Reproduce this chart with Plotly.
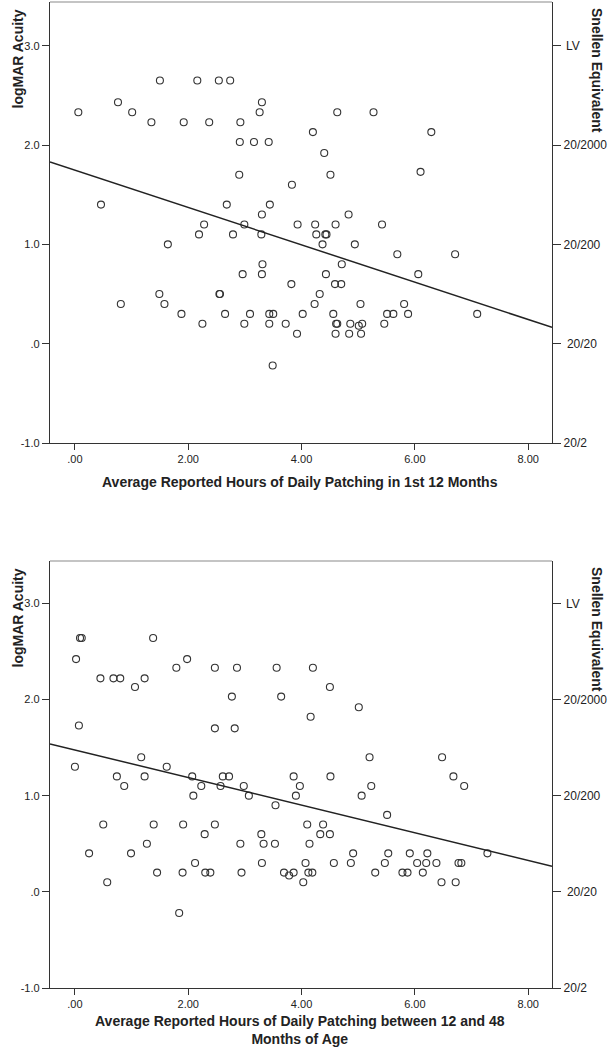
import plotly.graph_objects as go

# ---------------- data ----------------
top_x = [0.06, 0.76, 1.01, 1.35, 1.50, 1.92, 2.16, 2.37, 2.54, 2.74, 2.92, 2.91, 3.16, 3.42, 3.26, 3.30,
         2.90, 3.83, 4.20, 4.63, 5.27, 6.29, 4.40, 4.51, 6.10, 0.46, 2.68, 3.44, 3.30, 2.28, 2.99, 3.93,
         2.19, 2.79, 3.29, 1.64, 3.31, 2.96, 3.30, 3.82, 1.49, 2.55, 2.56, 0.81, 1.58, 1.88, 2.65, 3.09,
         3.43, 3.50, 4.02, 2.25, 2.99, 3.43, 3.72, 3.92, 3.49, 4.24, 4.60, 4.83, 5.42, 4.26, 4.42, 4.44,
         4.37, 4.94, 5.69, 6.71, 4.71, 4.43, 6.06, 4.59, 4.70, 4.32, 4.23, 5.04, 5.81, 4.56, 5.51, 5.62,
         5.88, 7.10, 4.61, 4.63, 4.86, 5.01, 5.07, 5.46, 4.60, 4.84, 5.05]
top_y = [2.33, 2.43, 2.33, 2.23, 2.65, 2.23, 2.65, 2.23, 2.65, 2.65, 2.23, 2.03, 2.03, 2.03, 2.33, 2.43,
         1.70, 1.60, 2.13, 2.33, 2.33, 2.13, 1.92, 1.70, 1.73, 1.40, 1.40, 1.40, 1.30, 1.20, 1.20, 1.20,
         1.10, 1.10, 1.10, 1.00, 0.80, 0.70, 0.70, 0.60, 0.50, 0.50, 0.50, 0.40, 0.40, 0.30, 0.30, 0.30,
         0.30, 0.30, 0.30, 0.20, 0.20, 0.20, 0.20, 0.10, -0.22, 1.20, 1.20, 1.30, 1.20, 1.10, 1.10, 1.10,
         1.00, 1.00, 0.90, 0.90, 0.80, 0.70, 0.70, 0.60, 0.60, 0.50, 0.40, 0.40, 0.40, 0.30, 0.30, 0.30,
         0.30, 0.30, 0.20, 0.20, 0.20, 0.18, 0.20, 0.20, 0.10, 0.10, 0.10]

bot_x = [0.02, 0.09, 0.12, 0.07, 0.45, 0.68, 0.80, 1.06, 1.23, 1.38, 1.79, 1.98, 2.47, 2.86, 3.56, 2.77,
         3.64, 2.47, 2.82, 1.17, 4.20, 4.16, 4.50, 5.01, 5.20, 6.48, 0.00, 0.74, 0.87, 1.23, 1.62, 2.07,
         2.09, 2.23, 2.57, 2.61, 2.72, 2.98, 3.07, 3.54, 3.86, 3.97, 3.90, 0.50, 1.39, 1.91, 2.47, 4.10,
         2.29, 3.29, 1.27, 2.92, 3.33, 3.53, 4.14, 0.25, 0.99, 2.12, 3.30, 4.07, 1.45, 1.90, 2.30, 2.39,
         2.94, 3.69, 3.78, 3.86, 4.12, 4.19, 0.57, 4.03, 1.84, 4.51, 6.68, 5.23, 6.87, 5.06, 5.51, 4.38,
         4.33, 4.50, 4.91, 5.53, 5.91, 6.22, 7.28, 4.57, 4.87, 5.47, 6.04, 6.20, 6.38, 6.77, 6.82, 5.30,
         5.78, 5.87, 6.14, 6.47, 6.72]
bot_y = [2.42, 2.64, 2.64, 1.73, 2.22, 2.22, 2.22, 2.13, 2.22, 2.64, 2.33, 2.42, 2.33, 2.33, 2.33, 2.03,
         2.03, 1.70, 1.70, 1.40, 2.33, 1.82, 2.13, 1.92, 1.40, 1.40, 1.30, 1.20, 1.10, 1.20, 1.30, 1.20,
         1.00, 1.10, 1.10, 1.20, 1.20, 1.10, 1.00, 0.90, 1.20, 1.10, 1.00, 0.70, 0.70, 0.70, 0.70, 0.70,
         0.60, 0.60, 0.50, 0.50, 0.50, 0.50, 0.50, 0.40, 0.40, 0.30, 0.30, 0.30, 0.20, 0.20, 0.20, 0.20,
         0.20, 0.20, 0.17, 0.20, 0.20, 0.20, 0.10, 0.10, -0.22, 1.20, 1.20, 1.10, 1.10, 1.00, 0.80, 0.70,
         0.60, 0.60, 0.40, 0.40, 0.40, 0.40, 0.40, 0.30, 0.30, 0.30, 0.30, 0.30, 0.30, 0.30, 0.30, 0.20,
         0.20, 0.20, 0.20, 0.10, 0.10]

# linear fit lines (intercept, slope)
top_fit = [1.747, -0.188]
bot_fit = [1.475, -0.1435]

x_ticks = [0, 2, 4, 6, 8]
x_tick_text = [".00", "2.00", "4.00", "6.00", "8.00"]
y_ticks = [-1, 0, 1, 2, 3]
y_tick_text = ["-1.0", ".0", "1.0", "2.0", "3.0"]
snellen_text = ["20/2", "\u00a020/20", "20/200", "20/2000", "\u2009LV"]

x_title_top = "Average Reported Hours of Daily Patching in 1st 12 Months"
x_title_bot = "Average Reported Hours of Daily Patching between 12 and 48<br>Months of Age"
y_title_left = "logMAR Acuity"
y_title_right = "Snellen Equivalent"

# ---------------- layout geometry ----------------
W, H = 610, 1050
L, R, T, B = 50, 58, 2, 62
X_RANGE = [-0.44, 8.42]
Y_RANGE = [-1.0, 3.44]
plot_h = H - T - B


def py(p):  # pixel y -> paper y
    return (H - B - p) / plot_h


def px(p):  # pixel x -> paper x
    return (p - L) / (W - L - R)


top_dom = [py(443), 1.0]
bot_dom = [0.0, py(561)]

FONT = "Liberation Sans, Arial, sans-serif"
TXT = "#222222"
LINE = "#333333"

fig = go.Figure()

marker = dict(symbol="circle-open", size=7, color="#333333", line=dict(width=1.1))

fig.add_trace(go.Scatter(x=top_x, y=top_y, mode="markers", marker=marker, xaxis="x", yaxis="y",
                         showlegend=False))
fig.add_trace(go.Scatter(x=X_RANGE, y=[top_fit[0] + top_fit[1] * v for v in X_RANGE], mode="lines",
                         line=dict(color="#222222", width=1.5), xaxis="x", yaxis="y2", showlegend=False))
fig.add_trace(go.Scatter(x=bot_x, y=bot_y, mode="markers", marker=marker, xaxis="x2", yaxis="y3",
                         showlegend=False))
fig.add_trace(go.Scatter(x=X_RANGE, y=[bot_fit[0] + bot_fit[1] * v for v in X_RANGE], mode="lines",
                         line=dict(color="#222222", width=1.5), xaxis="x2", yaxis="y4", showlegend=False))

xa = dict(range=X_RANGE, tickvals=x_ticks, ticktext=x_tick_text, ticks="outside", ticklen=6,
          tickcolor=LINE, showline=True, linecolor=LINE, linewidth=1.3, showgrid=False, zeroline=False,
          tickfont=dict(family=FONT, size=11, color=TXT), domain=[0, 1])
ya = dict(range=Y_RANGE, tickvals=y_ticks, ticktext=y_tick_text, ticks="outside", ticklen=7,
          tickcolor=LINE, showline=True, linecolor=LINE, linewidth=1.3, showgrid=False, zeroline=False,
          tickfont=dict(family=FONT, size=11, color=TXT), ticklabelstandoff=0)
ya_r = dict(range=Y_RANGE, tickvals=y_ticks, ticktext=snellen_text, ticks="outside", ticklen=8,
            tickcolor=LINE, showline=True, linecolor=LINE, linewidth=1.3, showgrid=False, zeroline=False,
            tickfont=dict(family=FONT, size=12, color=TXT), side="right", ticklabelstandoff=0)

fig.update_layout(
    width=W, height=H,
    margin=dict(l=L, r=R, t=T, b=B),
    paper_bgcolor="white", plot_bgcolor="white",
    font=dict(family=FONT, color=TXT),
    xaxis=dict(xa, anchor="y"),
    yaxis=dict(ya, domain=top_dom, anchor="x"),
    yaxis2=dict(ya_r, overlaying="y", anchor="x"),
    xaxis2=dict(xa, anchor="y3"),
    yaxis3=dict(ya, domain=bot_dom, anchor="x2"),
    yaxis4=dict(ya_r, overlaying="y3", anchor="x2"),
)

# top frame lines (light gray)
for ytop in (1.0, bot_dom[1]):
    fig.add_shape(type="line", xref="paper", yref="paper", x0=0, x1=1, y0=ytop, y1=ytop,
                  line=dict(color="#8a8a8a", width=1.2))

title_font = dict(family=FONT, size=14, color=TXT)
ann = []
for cy_left, cy_right, cy_x, xt in ((59, 70, 482, x_title_top), (618, 629, 1030, x_title_bot)):
    ann.append(dict(text="<b>%s</b>" % y_title_left, textangle=-90, xref="paper", yref="paper",
                    x=px(17.5), y=py(cy_left), showarrow=False, font=title_font,
                    xanchor="center", yanchor="middle"))
    ann.append(dict(text="<b>%s</b>" % y_title_right, textangle=90, xref="paper", yref="paper",
                    x=px(597), y=py(cy_right), showarrow=False, font=title_font,
                    xanchor="center", yanchor="middle"))
    ann.append(dict(text="<b>%s</b>" % xt, xref="paper", yref="paper", x=px(300), y=py(cy_x),
                    showarrow=False, font=title_font, xanchor="center", yanchor="middle"))
fig.update_layout(annotations=ann)

fig.write_html("out.html", config={"displayModeBar": False},
               post_script="document.body.style.margin='0';document.body.style.overflow='hidden';")
